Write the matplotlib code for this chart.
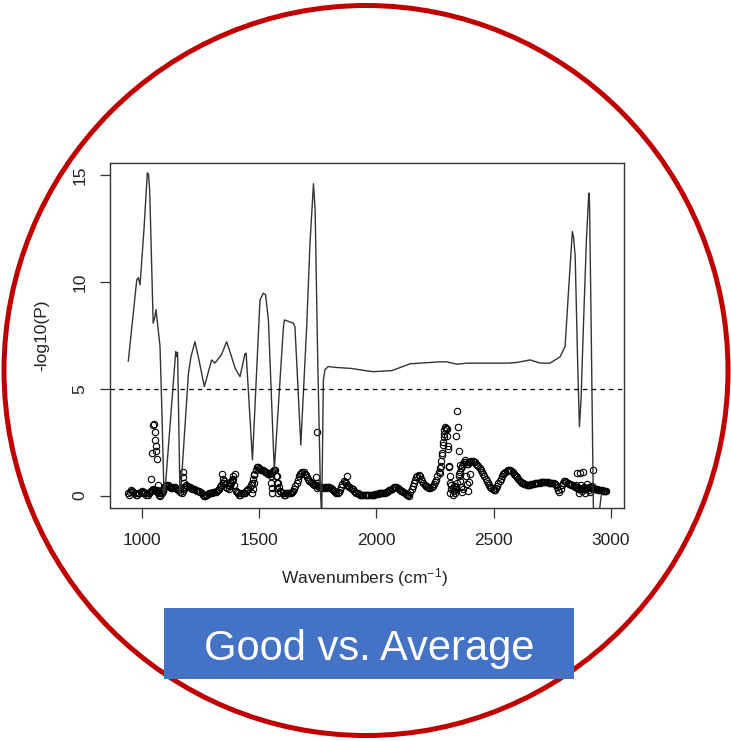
import matplotlib
matplotlib.use("Agg")
import matplotlib.pyplot as plt
from matplotlib.patches import Ellipse, Rectangle

plt.rcParams['font.family'] = ['Liberation Sans', 'DejaVu Sans']
plt.rcParams['mathtext.fontset'] = 'custom'
plt.rcParams['mathtext.rm'] = 'Liberation Sans'
plt.rcParams['mathtext.it'] = 'Liberation Sans:italic'

# ---- data ----
# solid line: -log10(P) trace
line_wn = [943, 979, 986, 993, 1010, 1024, 1029, 1034, 1049, 1055,
           1061, 1066, 1078, 1086, 1095, 1100, 1145, 1149, 1153, 1163,
           1167, 1199, 1210, 1227, 1245, 1267, 1298, 1312, 1340, 1362,
           1380, 1398, 1419, 1440, 1445, 1472, 1504, 1518, 1528, 1540,
           1565, 1604, 1608, 1646, 1653, 1667, 1678, 1703, 1717, 1732,
           1739, 1750, 1762, 1767, 1774, 1781, 1795, 1824, 1895, 1952,
           1987, 2066, 2144, 2271, 2300, 2343, 2386, 2506, 2560, 2598,
           2655, 2698, 2740, 2783, 2804, 2818, 2835, 2840, 2847, 2858,
           2865, 2872, 2882, 2895, 2905, 2908, 2915, 2925, 2932, 2945,
           2958]
line_p = [6.3, 10.1, 10.2, 9.86, 12.5, 15.1, 15.05, 14.3, 8.07, 8.3,
          8.7, 8.2, 7.0, 4.0, 0.1, 0.3, 6.74, 6.5, 6.7, 0.1,
          0.3, 5.7, 6.5, 7.2, 6.3, 5.1, 6.35, 6.2, 6.6, 7.2,
          6.6, 5.96, 5.57, 6.63, 6.67, 1.67, 9.16, 9.47, 9.4, 8.2,
          1.2, 7.9, 8.22, 8.07, 7.9, 4.8, 2.37, 7.9, 11.8, 14.6,
          13.4, 6.35, 0.1, -1.0, 5.4, 5.9, 6.04, 6.0, 5.95, 5.85,
          5.8, 5.85, 6.17, 6.26, 6.26, 6.15, 6.2, 6.2, 6.2, 6.23,
          6.35, 6.2, 6.2, 6.5, 6.98, 9.47, 12.36, 12.1, 11.2, 6.0,
          3.23, 4.5, 7.9, 12.0, 14.16, 13.8, 8.0, -1.0, -1.2, -1.2,
          0.0]

# open circles: main band, read every 10 cm-1 from 940 to 2980
band_wn = list(range(940, 2990, 10))
band_p = [0.10, 0.15, 0.20, 0.10, 0.05, 0.10,
          0.20, 0.15, 0.05, 0.10, 0.20, 0.30, 0.20, 0.10, 0.00, 0.20,
          0.45, 0.50, 0.40, 0.35, 0.40, 0.30, 0.25, 0.10, 0.30, 0.50,
          0.40, 0.35, 0.30, 0.25, 0.20, 0.15, 0.05, 0.00, 0.05, 0.10,
          0.10, 0.15, 0.20, 0.30, 0.50, 0.70, 0.40, 0.30, 0.60, 0.80,
          0.20, 0.10, 0.05, 0.10, 0.10, 0.25, 0.40, 0.60, 1.00, 1.35,
          1.30, 1.20, 1.15, 1.10, 1.00, 1.05, 1.15, 1.20, 0.60, 0.20,
          0.10, 0.05, 0.10, 0.10, 0.15, 0.30, 0.60, 0.90, 1.05, 1.10,
          0.95, 0.80, 0.65, 0.55, 0.50, 0.45, 0.40, 0.35, 0.40, 0.35,
          0.40, 0.30, 0.20, 0.10, 0.15, 0.40, 0.70, 0.60, 0.45, 0.35,
          0.30, 0.15, 0.10, 0.05, 0.05, 0.03, 0.02, 0.03, 0.05, 0.05,
          0.07, 0.10, 0.10, 0.12, 0.15, 0.20, 0.27, 0.35, 0.42, 0.35,
          0.27, 0.20, 0.10, 0.05, 0.00, 0.30, 0.60, 0.85, 0.95, 0.80,
          0.60, 0.45, 0.38, 0.35, 0.45, 0.65, 0.90, 1.30, 2.00, 2.90,
          3.10, 1.40, 0.50, 0.20, 0.40, 0.90, 1.30, 1.50, 1.55, 1.50,
          1.55, 1.60, 1.55, 1.45, 1.30, 1.10, 0.90, 0.70, 0.50, 0.35,
          0.25, 0.35, 0.60, 0.80, 1.00, 1.12, 1.18, 1.20, 1.10, 0.95,
          0.85, 0.70, 0.60, 0.55, 0.50, 0.50, 0.52, 0.55, 0.58, 0.60,
          0.62, 0.65, 0.65, 0.62, 0.60, 0.58, 0.55, 0.40, 0.15, 0.50,
          0.70, 0.62, 0.55, 0.50, 0.45, 0.40, 0.35, 0.30, 0.35, 0.30,
          0.35, 0.40, 0.35, 0.30, 0.30, 0.27, 0.25, 0.22, 0.20]

# open circles: main band, read at the in-between wavenumbers 945..2975
band2_wn = list(range(945, 2980, 10))
band2_p = [0.05, 0.25, 0.15, 0.05, 0.10, 0.15,
           0.10, 0.10, 0.05, 0.15, 0.25, 0.25, 0.15, 0.05, 0.10, 0.35,
           0.50, 0.45, 0.35, 0.40, 0.35, 0.25, 0.15, 0.20, 0.40, 0.45,
           0.40, 0.30, 0.30, 0.20, 0.20, 0.10, 0.00, 0.05, 0.10, 0.10,
           0.15, 0.15, 0.25, 0.40, 0.60, 0.55, 0.35, 0.45, 0.70, 0.50,
           0.15, 0.05, 0.10, 0.10, 0.20, 0.30, 0.50, 0.80, 1.20, 1.35,
           1.25, 1.20, 1.10, 1.05, 1.00, 1.10, 1.20, 0.90, 0.40, 0.15,
           0.05, 0.10, 0.10, 0.10, 0.20, 0.45, 0.75, 1.00, 1.10, 1.00,
           0.85, 0.70, 0.60, 0.50, 0.50, 0.40, 0.40, 0.35, 0.40, 0.40,
           0.35, 0.25, 0.15, 0.10, 0.25, 0.55, 0.65, 0.50, 0.40, 0.30,
           0.20, 0.10, 0.08, 0.05, 0.04, 0.02, 0.03, 0.04, 0.05, 0.06,
           0.08, 0.10, 0.11, 0.14, 0.18, 0.24, 0.30, 0.40, 0.40, 0.30,
           0.22, 0.15, 0.08, 0.02, 0.15, 0.45, 0.75, 0.90, 0.90, 0.70,
           0.50, 0.40, 0.35, 0.40, 0.55, 0.75, 1.10, 1.60, 2.50, 3.10,
           2.20, 0.90, 0.30, 0.30, 0.60, 1.10, 1.40, 1.55, 1.50, 1.55,
           1.60, 1.58, 1.50, 1.38, 1.20, 1.00, 0.80, 0.60, 0.42, 0.30,
           0.28, 0.45, 0.70, 0.90, 1.08, 1.15, 1.20, 1.15, 1.02, 0.90,
           0.78, 0.65, 0.58, 0.52, 0.50, 0.50, 0.53, 0.57, 0.59, 0.61,
           0.64, 0.66, 0.64, 0.61, 0.59, 0.57, 0.50, 0.25, 0.30, 0.60,
           0.68, 0.58, 0.52, 0.48, 0.42, 0.38, 0.32, 0.32, 0.33, 0.32,
           0.38, 0.38, 0.32, 0.30, 0.28, 0.26, 0.23, 0.21]

# open circles: scattered points off the band
extra_wn = [1040, 1043, 1048, 1052, 1055, 1058, 1060, 1062, 1066, 1070, 1073, 1065,
            1176, 1178, 1180, 1182,
            1344, 1346, 1348, 1372, 1378, 1384, 1390, 1396,
            1470, 1474, 1477, 1480,
            1550, 1552, 1554, 1556,
            1574, 1576, 1578, 1580,
            1744, 1745, 1746, 1748,
            1875,
            2271, 2275, 2279, 2283, 2286, 2290, 2294, 2298, 2302, 2306,
            2309, 2312, 2315, 2320, 2325, 2332, 2336, 2340, 2345, 2347,
            2350, 2353, 2355, 2358, 2362, 2366, 2370, 2378, 2380, 2385,
            2390, 2395, 2400,
            2850, 2854, 2858, 2862, 2866, 2870, 2876, 2880, 2884, 2890,
            2898, 2905, 2912, 2920, 2925, 2928]
extra_p = [0.77, 2.0, 3.3, 3.35, 3.0, 2.6, 2.3, 2.1, 1.7, 0.5, 0.1, 0.25,
           1.1, 0.85, 0.6, 0.4,
           1.0, 0.8, 0.6, 0.5, 0.65, 0.75, 0.9, 1.0,
           0.1, 0.3, 0.6, 0.95,
           0.9, 0.6, 0.35, 0.1,
           0.9, 0.6, 0.35, 0.1,
           0.85, 3.0, 0.6, 0.35,
           0.9,
           1.05, 1.4, 1.9, 2.35, 2.76, 3.07, 3.2, 3.15, 2.8, 2.3,
           1.36, 0.6, 0.1, 0.3, 0.05, 0.45, 0.1, 2.8, 3.97, 3.2,
           2.07, 1.0, 1.44, 0.7, 0.4, 0.15, 0.3, 1.67, 0.9, 0.55,
           0.2, 0.65, 1.0,
           0.5, 1.05, 0.3, 0.1, 1.05, 0.5, 0.2, 1.1, 0.4, 0.1,
           0.55, 0.25, 0.15, 0.45, 1.2, 0.3]

threshold = 5
x_ticks = [1000, 1500, 2000, 2500, 3000]
y_ticks = [0, 5, 10, 15]
x_label = 'Wavenumbers (cm$^{\\mathrm{-1}}$)'
y_label = '-log10(P)'
banner = 'Good vs. Average'

assert len(line_wn) == len(line_p)
assert len(band_wn) == len(band_p)
assert len(band2_wn) == len(band2_p)
assert len(extra_wn) == len(extra_p)

# ---- figure ----
W, H = 731, 741
fig = plt.figure(figsize=(W / 100, H / 100), dpi=100)
fig.patch.set_facecolor('white')

# red circle frame
circ = Ellipse((366 / W, 1 - 370.5 / H), 2 * 362 / W, 2 * 365 / H,
               transform=fig.transFigure, facecolor='none',
               edgecolor='#C00000', linewidth=3.6, zorder=0)
fig.patches.append(circ)

ax = fig.add_axes([110 / W, 1 - 508 / H, 514 / W, (508 - 162.7) / H])
ax.set_facecolor('white')
ax.plot(line_wn, line_p, color='#333333', lw=1.0, zorder=3)
for xs, ys in ((band_wn, band_p), (band2_wn, band2_p), (extra_wn, extra_p)):
    ax.plot(xs, ys, linestyle='none', marker='o', ms=4.6, mfc='none',
            mec='black', mew=0.8, zorder=2)
ax.axhline(threshold, color='black', lw=0.9, linestyle=(0, (3.5, 3.5)), zorder=4)

ax.set_xlim(865, 3055)
ax.set_ylim(-0.58, 15.58)
ax.set_xticks(x_ticks)
ax.set_yticks(y_ticks)
ax.set_xticklabels([str(v) for v in x_ticks])
ax.set_yticklabels([str(v) for v in y_ticks], rotation=90, va='center')
for s in ax.spines.values():
    s.set_color('#333333')
    s.set_linewidth(1.0)
ax.tick_params(direction='out', length=7, width=0.9, color='#333333',
               labelsize=12.5, labelcolor='#222222')
ax.tick_params(axis='x', pad=11)
ax.tick_params(axis='y', pad=9)

fig.text(364 / W, 1 - 578 / H, x_label, ha='center', va='center',
         fontsize=12.5, color='#222222')
fig.text(42 / W, 1 - 335 / H, y_label, ha='center', va='center',
         rotation=90, fontsize=12.5, color='#222222')

# banner
rect = Rectangle((164 / W, 1 - 679 / H), 410 / W, 71 / H,
                 transform=fig.transFigure, facecolor='#4472C4',
                 edgecolor='none', zorder=5)
fig.patches.append(rect)
fig.text(369 / W, 1 - 660 / H, banner, ha='center', va='baseline',
         fontsize=30, color='white', zorder=6)

fig.savefig('out.png', dpi=100)
